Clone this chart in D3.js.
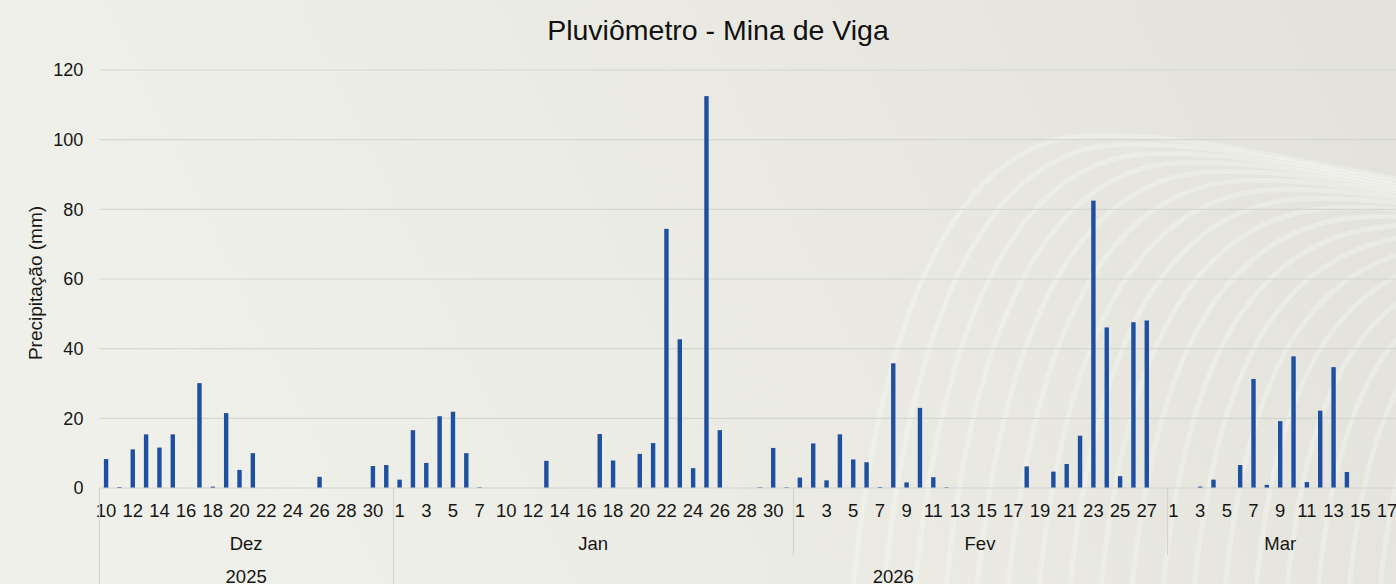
<!DOCTYPE html>
<html>
<head>
<meta charset="utf-8">
<script src="https://cdn.jsdelivr.net/npm/d3@7"></script>
<style>
  html, body { margin: 0; padding: 0; }
  body { width: 1396px; height: 584px; overflow: hidden; }
  svg { display: block; font-family: "Liberation Sans", Arial, sans-serif; }
</style>
</head>
<body>
<svg></svg>
<script>
const size = {w: 1396, h: 584};
const margin = {t: 70, r: 2.4, b: 96, l: 99.4};

// month groups on the multi level axis
const months = ['Dez', 'Jan', 'Fev', 'Mar'];
const years = ['2025', '2026'];
const monthYear = ['2025', '2026', '2026', '2026'];

// days present in the data (Jan 9 has no record)
const dezDays = [10,11,12,13,14,15,16,17,18,19,20,21,22,23,24,25,26,27,28,29,30,31];
const janDays = [1,2,3,4,5,6,7,8,10,11,12,13,14,15,16,17,18,19,20,21,22,23,24,25,26,27,28,29,30,31];
const fevDays = [1,2,3,4,5,6,7,8,9,10,11,12,13,14,15,16,17,18,19,20,21,22,23,24,25,26,27,28];
const marDays = [1,2,3,4,5,6,7,8,9,10,11,12,13,14,15,16,17];

// precipitation (mm)
const dezRain = [8.3,0.3,11.1,15.4,11.6,15.4,0,30.1,0.4,21.5,5.2,10.0,0,0,0,0,3.2,0,0,0,6.3,6.6];
const janRain = [2.4,16.6,7.2,20.6,21.9,10.0,0.2,0,0,0,0,7.8,0,0,0,15.5,7.9,0,9.8,12.9,74.4,42.7,5.7,112.5,16.6,0,0,0.2,11.5,0.2];
const fevRain = [3.0,12.8,2.2,15.4,8.2,7.4,0.3,35.8,1.6,23.0,3.1,0.2,0,0,0,0,0,6.2,0,4.7,6.9,15.0,82.5,46.1,3.4,47.6,48.1,0];
const marRain = [0,0,0.4,2.4,0,6.6,31.3,0.9,19.2,37.8,1.7,22.2,34.7,4.6,0,0,0];

const yTicks = [0, 20, 40, 60, 80, 100, 120];

// flatten into one row per day
const dayLists = [dezDays, janDays, fevDays, marDays];
const rainLists = [dezRain, janRain, fevRain, marRain];
let data = [];
dayLists.forEach((days, m) => {
    days.forEach((d, i) => {
        data.push({key: months[m] + '-' + d, month: m, day: d, value: rainLists[m][i]});
    });
});
data.forEach((d, i) => d.idx = i);

const svg = d3.select('svg')
    .attr('width', size.w)
    .attr('height', size.h);

const textColor = '#161616';
const labelSize = 18.5;

// ---- background ----
const defs = svg.append('defs');
const grad = defs.append('linearGradient').attr('id', 'bg')
    .attr('x1', '0').attr('y1', '0.2').attr('x2', '1').attr('y2', '0');
grad.append('stop').attr('offset', '0').attr('stop-color', '#f0f0ea');
grad.append('stop').attr('offset', '0.5').attr('stop-color', '#eaeae3');
grad.append('stop').attr('offset', '1').attr('stop-color', '#e2e2da');

svg.append('rect')
    .attr('width', size.w).attr('height', size.h)
    .attr('fill', 'url(#bg)');

// decorative sweeping arcs on the right side
const arcsG = svg.append('g').attr('fill', 'none')
    .attr('stroke', '#ffffff').attr('stroke-opacity', 0.28).attr('stroke-width', 5);
d3.range(19).forEach(i => {
    let x0 = 852 + i * 31;
    let yt = 136 + i * 9;
    let p = d3.path();
    p.moveTo(x0, 600);
    p.bezierCurveTo(x0 + 20, 380, x0 + 80, yt + 10, x0 + 230, yt);
    p.bezierCurveTo(x0 + 340, yt - 5, x0 + 430, yt + 25, x0 + 560, yt + 45);
    arcsG.append('path').attr('d', p.toString());
});

// ---- scales ----
const x = d3.scaleBand()
    .domain(data.map(d => d.idx))
    .range([margin.l, size.w - margin.r])
    .padding(0);

const y = d3.scaleLinear()
    .domain([0, 120])
    .range([size.h - margin.b, margin.t]);

const plotBottom = y(0);

// gridlines
svg.append('g').classed('grid', true)
    .selectAll('line')
    .data(yTicks.filter(t => t > 0))
    .join('line')
    .attr('x1', margin.l).attr('x2', size.w)
    .attr('y1', d => y(d)).attr('y2', d => y(d))
    .attr('stroke', '#d6d6d2').attr('stroke-width', 1.2);

// y axis labels
const yAxis = d3.axisLeft(y).tickValues(yTicks).tickSize(0).tickPadding(0);
svg.append('g')
    .attr('transform', `translate(${margin.l - 16},0)`)
    .call(yAxis)
    .call(g => g.select('.domain').remove())
    .call(g => g.selectAll('text')
        .attr('font-size', 18)
        .attr('fill', textColor)
        .attr('font-family', '"Liberation Sans", Arial, sans-serif'));

svg.append('text')
    .attr('transform', `translate(42,${(y(0) + y(120)) / 2 + 4}) rotate(-90)`)
    .attr('text-anchor', 'middle')
    .attr('font-size', 19)
    .attr('fill', textColor)
    .text('Precipitação (mm)');

// title
svg.append('text')
    .attr('x', 718).attr('y', 40)
    .attr('text-anchor', 'middle')
    .attr('font-size', 28.5)
    .attr('fill', '#111')
    .text('Pluviômetro - Mina de Viga');

// ---- bars ----
const barW = x.bandwidth() * 0.33;
svg.append('g').classed('bars', true)
    .selectAll('rect')
    .data(data)
    .join('rect')
    .attr('x', d => x(d.idx) + (x.bandwidth() - barW) / 2)
    .attr('width', barW)
    .attr('y', d => y(d.value))
    .attr('height', d => plotBottom - y(d.value))
    .attr('fill', '#1f4fa0');

// ---- multi level category axis ----
const axisG = svg.append('g').classed('xaxis', true);
const lineColor = '#d2d2cf';

// baseline
axisG.append('line')
    .attr('x1', margin.l).attr('x2', size.w)
    .attr('y1', plotBottom).attr('y2', plotBottom)
    .attr('stroke', lineColor).attr('stroke-width', 1.2);

// day labels, every second category within each month
axisG.selectAll('text.day')
    .data(data.filter(d => {
        let first = data.find(e => e.month === d.month).idx;
        return (d.idx - first) % 2 === 0;
    }))
    .join('text')
    .classed('day', true)
    .attr('x', d => x(d.idx) + x.bandwidth() / 2)
    .attr('y', plotBottom + 29)
    .attr('text-anchor', 'middle')
    .attr('font-size', labelSize)
    .attr('fill', textColor)
    .text(d => d.day);

// month groups
let monthSpans = months.map((m, i) => {
    let rows = data.filter(d => d.month === i);
    let x0 = x(rows[0].idx);
    let x1 = x(rows[rows.length - 1].idx) + x.bandwidth();
    return {name: m, year: monthYear[i], x0: x0, x1: x1};
});

axisG.selectAll('text.month')
    .data(monthSpans)
    .join('text')
    .classed('month', true)
    .attr('x', d => (d.x0 + d.x1) / 2)
    .attr('y', plotBottom + 62)
    .attr('text-anchor', 'middle')
    .attr('font-size', labelSize)
    .attr('fill', textColor)
    .text(d => d.name);

let yearSpans = years.map(yr => {
    let ms = monthSpans.filter(m => m.year === yr);
    return {name: yr, x0: ms[0].x0, x1: ms[ms.length - 1].x1};
});

axisG.selectAll('text.year')
    .data(yearSpans)
    .join('text')
    .classed('year', true)
    .attr('x', d => (d.x0 + d.x1) / 2)
    .attr('y', plotBottom + 95)
    .attr('text-anchor', 'middle')
    .attr('font-size', labelSize)
    .attr('fill', textColor)
    .text(d => d.name);

// dividers: month bounds stop above the year row, year bounds run to the bottom
let dividers = [{x: margin.l, full: true}];
monthSpans.slice(1).forEach((m, i) => {
    dividers.push({x: m.x0, full: m.year !== monthSpans[i].year});
});
axisG.selectAll('line.div')
    .data(dividers)
    .join('line')
    .classed('div', true)
    .attr('x1', d => Math.round(d.x) + 0.5).attr('x2', d => Math.round(d.x) + 0.5)
    .attr('y1', plotBottom)
    .attr('y2', d => d.full ? size.h : plotBottom + 67)
    .attr('stroke', lineColor).attr('stroke-width', 1.2);
</script>
</body>
</html>
